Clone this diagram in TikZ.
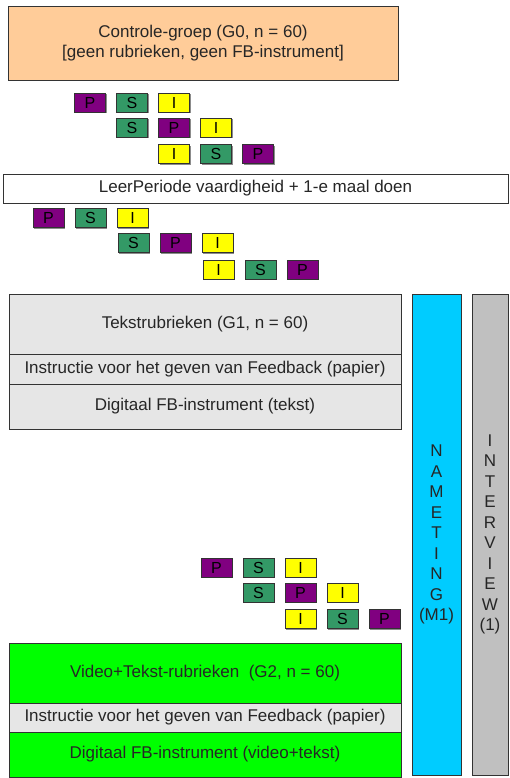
\documentclass[tikz,border=0pt]{standalone}
\usepackage{fontspec}
\setmainfont{Liberation Sans}
\usetikzlibrary{shadows}
\definecolor{peach}{RGB}{255,204,153}
\definecolor{lightgrey}{RGB}{230,230,230}
\definecolor{barcyan}{RGB}{0,204,255}
\definecolor{bargrey}{RGB}{192,192,192}
\definecolor{brightgreen}{RGB}{0,255,0}
\definecolor{tilepurple}{RGB}{128,0,128}
\definecolor{tilegreen}{RGB}{51,153,102}
\definecolor{tileyellow}{RGB}{255,255,0}

\tikzset{
  block/.style={draw=black!80, line width=0.8pt, inner sep=0pt, align=center,
    text=black!85, font=\fontsize{17}{20.5}\selectfont},
  shade box/.style={drop shadow={shadow xshift=1.2pt, shadow yshift=-1.2pt, fill=black!45, opacity=1}},
  tile/.style={draw=black!80, line width=0.8pt, inner sep=0pt, minimum width=31pt,
    minimum height=19pt, text=black, font=\fontsize{16}{16}\selectfont, shade box},
  ptile/.style={tile, fill=tilepurple},
  stile/.style={tile, fill=tilegreen},
  itile/.style={tile, fill=tileyellow},
  bar/.style={block, minimum height=481pt, shade box}
}

% three rows of P-S-I tiles; #4 is the shift from one row to the next
\newcommand{\psitiles}[4]{%
  \begin{scope}[shift={(#2,#3)}]
    \node[ptile] (#1-p1) at (0,0) {P};
    \node[stile] (#1-s1) at (42,0) {S};
    \node[itile] (#1-i1) at (84,0) {I};
    \node[stile] (#1-s2) at (#4,25) {S};
    \node[ptile] (#1-p2) at (#4+42,25) {P};
    \node[itile] (#1-i2) at (#4+84,25) {I};
    \node[itile] (#1-i3) at (2*#4,51.5) {I};
    \node[stile] (#1-s3) at (2*#4+42,51.5) {S};
    \node[ptile] (#1-p3) at (2*#4+84,51.5) {P};
  \end{scope}}

\begin{document}
\begin{tikzpicture}[x=1pt,y=-1pt]
    \useasboundingbox (0,0) rectangle (510,778);

    % Control group
    \node[block, fill=peach, minimum width=390pt, minimum height=74pt, shade box] (control) at (203,43)
        {Controle-groep (G0, n = 60)\\{}[geen rubrieken, geen FB-instrument]};

    % Tiles before the learning period
    \psitiles{pre}{90}{102.5}{42}

    % Learning period
    \node[block, fill=white, minimum width=505pt, minimum height=29pt, shade box] (leerperiode) at (255.5,188.5)
        {LeerPeriode vaardigheid + 1-e maal doen};

    % Tiles after the learning period
    \psitiles{post}{48.5}{218}{85}

    % Group 1: text rubrics
    \node[block, fill=lightgrey, minimum width=392pt, minimum height=60pt, shade box] (g1head) at (205,324)
        {Tekstrubrieken (G1, n = 60)};
    \node[block, fill=lightgrey, minimum width=392pt, minimum height=30pt] (g1instr) at (205,369)
        {Instructie voor het geven van Feedback (papier)};
    \node[block, fill=lightgrey, minimum width=392pt, minimum height=45pt, shade box] (g1tool) at (205,406.5)
        {Digitaal FB-instrument (tekst)};

    % Tiles before group 2
    \psitiles{mid}{216.5}{567.5}{42}

    % Group 2: video + text rubrics
    \node[block, fill=brightgreen, minimum width=392pt, minimum height=60pt, shade box] (g2head) at (205,673)
        {Video+Tekst-rubrieken\ \ (G2, n = 60)};
    \node[block, fill=lightgrey, minimum width=392pt, minimum height=29pt] (g2instr) at (205,717.5)
        {Instructie voor het geven van Feedback (papier)};
    \node[block, fill=brightgreen, minimum width=392pt, minimum height=45pt] (g2tool) at (205,754.5)
        {Digitaal FB-instrument (video+tekst)};

    % Post-test and interview
    \node[bar, fill=barcyan, minimum width=49pt] (meting) at (436.5,534.5)
        {N\\A\\M\\E\\T\\I\\N\\G\\(M1)};
    \node[bar, fill=bargrey, minimum width=36pt] (interview) at (490,534.5)
        {I\\N\\T\\E\\R\\V\\I\\E\\W\\(1)};
\end{tikzpicture}
\end{document}
